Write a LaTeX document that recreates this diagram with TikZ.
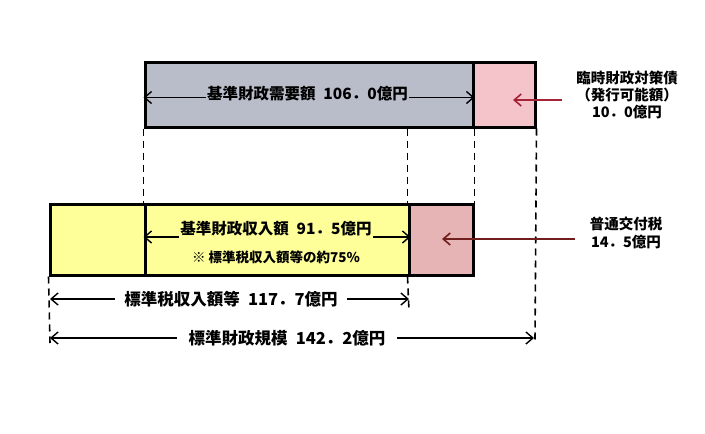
\documentclass[tikz,border=0pt]{standalone}
\usepackage{fontspec}
\setmainfont{Noto Sans CJK JP}
\usetikzlibrary{arrows.meta,calc}
\definecolor{cgray}{RGB}{184,189,201}
\definecolor{cpinkA}{RGB}{245,196,202}
\definecolor{cyellow}{RGB}{255,255,153}
\definecolor{cpinkB}{RGB}{230,180,180}
\definecolor{cptrA}{RGB}{165,35,55}
\definecolor{cptrB}{RGB}{115,30,30}
\begin{document}
\begin{tikzpicture}[x=1pt,y=-1pt,
  box/.style={draw=black, line width=3pt, inner sep=0pt},
  dim/.style={draw=black, line width=1.4pt, {Straight Barb[length=7pt,width=12pt]}-{Straight Barb[length=7pt,width=12pt]}},
  guide/.style={draw=black, line width=1.6pt, dash pattern=on 7pt off 5pt},
  lbl/.style={font=\bfseries\fontsize{15.5}{18}\selectfont, inner xsep=1pt, inner ysep=3pt},
  lblbig/.style={font=\bfseries\fontsize{16.5}{19}\selectfont, inner sep=1pt},
  lblside/.style={font=\bfseries\fontsize{14.5}{17.2}\selectfont, inner sep=1pt, align=center},
  ptr/.style={line width=1.6pt, -{Straight Barb[length=7pt,width=12pt]}}]
\useasboundingbox (0,0) rectangle (705,434);
% boxes
\node[box, fill=cgray, minimum width=328pt, minimum height=65pt] (need) at (309,94.5) {};
\node[box, fill=cpinkA, minimum width=62pt, minimum height=65pt] (rinji) at (504,94.5) {};
\node[box, fill=cyellow, minimum width=95pt, minimum height=71pt] (ytax) at (97.5,239.5) {};
\node[box, fill=cyellow, minimum width=264pt, minimum height=71pt] (income) at (277,239.5) {};
\node[box, fill=cpinkB, minimum width=64pt, minimum height=71pt] (kofu) at (441,239.5) {};
% guides
\coordinate (e1) at (409,311);
\coordinate (e2) at (535,341);
\coordinate (e3) at (50,343);
\draw[guide] (need.south west) -- (income.north west);
\draw[guide] (kofu.north west |- need.south) -- (kofu.north west);
\draw[guide] (kofu.south west) -- (e1);
\draw[guide] (need.south east) -- (kofu.north east);
\draw[guide] (rinji.south east) -- (e2);
\draw[guide] (ytax.south west) -- (e3);
% top dimension
\draw[dim] ([yshift=-3pt]need.west) -- ([yshift=-3pt]need.east);
\node[lbl, fill=cgray] (needlbl) at (307.5,93.5) {基準財政需要額\enspace 106．0億円};
% middle dimension
\draw[dim] ([yshift=2.5pt]income.west) -- ([yshift=2.5pt]income.east);
\node[lbl, fill=cyellow] (inclbl) at (276,229) {基準財政収入額\enspace 91．5億円};
\node[font=\bfseries\fontsize{13.5}{16}\selectfont, inner sep=1pt] (incnote) at (276,257.5) {※ 標準税収入額等の約75\%};
% bottom dimensions
\coordinate (L1) at (50,299);
\coordinate (R1) at (409,299);
\coordinate (L2) at (50,338);
\coordinate (R2) at (534,338);
\draw[dim] (L1) -- (R1);
\node[lblbig, fill=white, inner xsep=9pt] (taxlbl) at (231,299) {標準税収入額等\enspace 117．7億円};
\draw[dim] (L2) -- (R2);
\node[lblbig, fill=white, inner xsep=12pt] (scalelbl) at (287,338) {標準財政規模\enspace 142．2億円};
% side labels
\node[lblside] (rinjilbl) at (627,95) {臨時財政対策債\\（発行可能額）\\10．0億円};
\node[lblside] (kofulbl) at (626,233) {普通交付税\\14．5億円};
\coordinate (p1) at (562,100);
\coordinate (p2) at (575,239);
\draw[ptr, draw=cptrA] (p1) -- ([xshift=9pt,yshift=-5.5pt]rinji.center);
\draw[ptr, draw=cptrB] (p2) -- ([xshift=1pt,yshift=0.5pt]kofu.center);
\end{tikzpicture}
\end{document}
